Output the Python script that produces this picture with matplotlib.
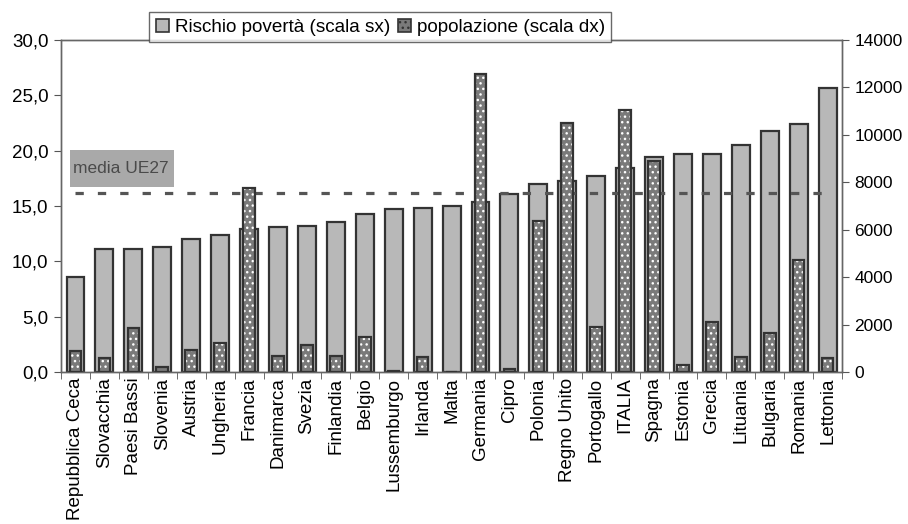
import matplotlib.pyplot as plt
import numpy as np
from matplotlib.patches import Patch, Rectangle

plt.rcParams['font.family'] = ['Liberation Sans', 'DejaVu Sans']

paesi = ["Repubblica Ceca", "Slovacchia", "Paesi Bassi", "Slovenia", "Austria",
         "Ungheria", "Francia", "Danimarca", "Svezia", "Finlandia", "Belgio",
         "Lussemburgo", "Irlanda", "Malta", "Germania", "Cipro", "Polonia",
         "Regno Unito", "Portogallo", "ITALIA", "Spagna", "Estonia", "Grecia",
         "Lituania", "Bulgaria", "Romania", "Lettonia"]

# rischio di povertà (%), scala sinistra
rischio = [8.6, 11.1, 11.1, 11.3, 12.0, 12.4, 12.9, 13.1, 13.2, 13.6, 14.3,
           14.7, 14.8, 15.0, 15.4, 16.1, 17.0, 17.3, 17.7, 18.4, 19.4, 19.7,
           19.7, 20.5, 21.8, 22.4, 25.7]

# popolazione (migliaia), scala destra
popolazione = [880, 600, 1850, 200, 930, 1240, 7750, 690, 1140, 675, 1490,
               40, 620, 20, 12560, 120, 6370, 10500, 1890, 11050, 8910, 300,
               2120, 650, 1630, 4720, 580]

media_ue27 = 16.2

x = np.arange(len(paesi))

fig = plt.figure(figsize=(9.08, 5.24), dpi=100)
ax = fig.add_axes([0.0672, 0.290, 0.8602, 0.6337])
ax2 = ax.twinx()

ax.bar(x, rischio, width=0.62, color="#b8b8b8", edgecolor="#333333", linewidth=1.6,
       label="Rischio povertà (scala sx)", zorder=2)
ax.plot([x[0], x[-1]], [media_ue27, media_ue27], color="#555555", lw=2.3,
        linestyle=(0, (2.6, 4.4)), dash_capstyle="butt", zorder=3)

# etichetta media UE27 su riquadro grigio
ax.add_patch(Rectangle((-0.19, 16.7), 3.6, 3.4, facecolor="#a9a9a9", edgecolor="none", zorder=4))
ax.text(-0.09, 18.4, "media UE27", fontsize=12.5, color="#4a4a4a", va="center", ha="left", zorder=5)

# barre popolazione: riempimento a puntini bianchi + bordo scuro
ax2.bar(x, popolazione, width=0.4, color="#7a7a7a", edgecolor="white", hatch="...",
        linewidth=0, zorder=2)
ax2.bar(x, popolazione, width=0.4, fill=False, edgecolor="#333333", linewidth=1.6, zorder=3)

ax.set_xlim(-0.5, len(paesi) - 0.5)
ax.set_ylim(0, 30)
ax2.set_ylim(0, 14000)
ax.set_yticks(np.arange(0, 31, 5))
ax.set_yticklabels([f"{v:.1f}".replace(".", ",") for v in np.arange(0, 31, 5)], fontsize=13.5)
ax2.set_yticks(np.arange(0, 14001, 2000))
ax2.set_yticklabels([str(v) for v in np.arange(0, 14001, 2000)], fontsize=12.5)

ax.set_xticks(x)
ax.set_xticklabels(paesi, rotation=90, fontsize=13.5)
ax.set_xticks(np.arange(-0.5, len(paesi)), minor=True)
ax.tick_params(axis="x", which="major", length=0, pad=4)
ax.tick_params(axis="x", which="minor", length=5, color="#555555")
ax.tick_params(axis="y", length=5, color="#555555", pad=4)
ax2.tick_params(axis="y", length=5, color="#555555", pad=4)

for a in (ax, ax2):
    for s in a.spines.values():
        s.set_color("#666666")
        s.set_linewidth(1.0)

# legenda
h1 = Patch(facecolor="#b8b8b8", edgecolor="#333333", linewidth=1.2)
h2 = Patch(facecolor="#7a7a7a", edgecolor="#333333", hatch="...", linewidth=1.2)
leg = fig.legend([h1, h2], ["Rischio povertà (scala sx)", "popolazione (scala dx)"],
                 loc="center", bbox_to_anchor=(0.419, 0.948), ncol=2, fontsize=13.6,
                 frameon=True, fancybox=False, edgecolor="#444444", handlelength=0.7,
                 handleheight=0.7, handletextpad=0.3, columnspacing=0.4,
                 borderpad=0.35, borderaxespad=0)
leg.get_frame().set_linewidth(1.0)

fig.savefig("out.png", dpi=100)
